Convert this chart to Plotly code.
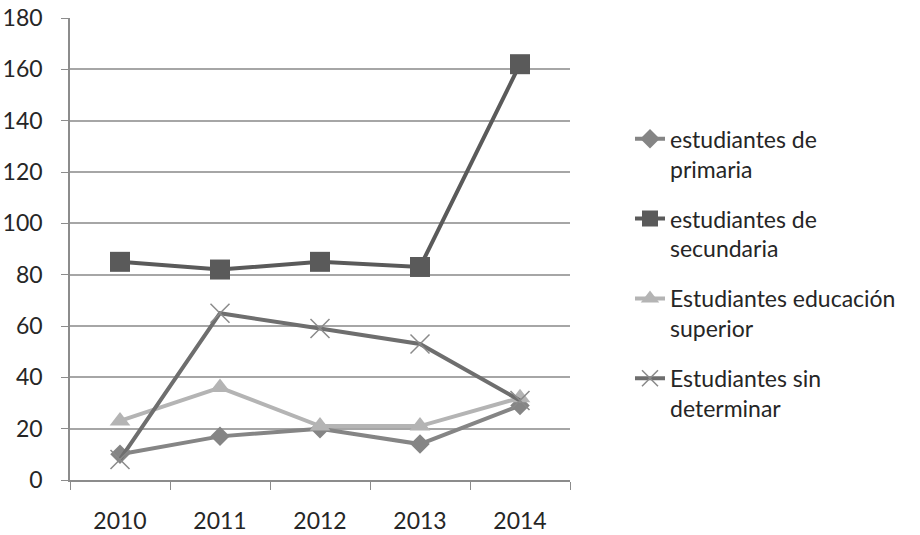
import plotly.graph_objects as go

years = ["2010", "2011", "2012", "2013", "2014"]
primaria = [10, 17, 20, 14, 29]
secundaria = [85, 82, 85, 83, 162]
superior = [23, 36, 21, 21, 32]
sin_determinar = [8, 65, 59, 53, 31]

names = ["estudiantes de<br>primaria", "estudiantes de<br>secundaria",
         "Estudiantes educación<br>superior", "Estudiantes sin<br>determinar"]

fig = go.Figure()
fig.add_trace(go.Scatter(x=years, y=primaria, name=names[0], mode="lines+markers",
                         line=dict(color="#858585", width=4),
                         marker=dict(symbol="diamond", size=15, color="#858585"),
                         legendgroup="a"))
fig.add_trace(go.Scatter(x=years, y=secundaria, name=names[1], mode="lines+markers",
                         line=dict(color="#5a5a5a", width=4),
                         marker=dict(symbol="square", size=20, color="#5a5a5a"),
                         legendgroup="b"))
fig.add_trace(go.Scatter(x=years, y=superior, name=names[2], mode="lines+markers",
                         line=dict(color="#b4b4b4", width=4),
                         marker=dict(symbol="triangle-up", size=18, color="#b4b4b4"),
                         legendgroup="c"))
fig.add_trace(go.Scatter(x=years, y=sin_determinar, name=names[3], mode="lines+markers",
                         line=dict(color="#6e6e6e", width=4),
                         marker=dict(symbol="x-thin", size=19, color="#6e6e6e",
                                     line=dict(color="#8a8a8a", width=1.5)),
                         legendgroup="d"))

fig.update_layout(
    width=920, height=535,
    margin=dict(l=70, r=350, t=18, b=55),
    paper_bgcolor="white", plot_bgcolor="white",
    font=dict(family="Lato, Open Sans, sans-serif", size=23, color="#262626"),
    legend=dict(x=1.12, y=0.785, xanchor="left", yanchor="top",
                tracegroupgap=17, valign="top", font=dict(size=23)),
    showlegend=True,
)
fig.update_xaxes(type="category", showline=True, linecolor="#8c8c8c", linewidth=1.5,
                 ticks="outside", tickson="boundaries", ticklen=8, tickcolor="#8c8c8c",
                 showgrid=False, range=[-0.5, 4.5], ticklabelstandoff=20, automargin=False,
                 ticklabeloverflow="allow")
fig.update_yaxes(range=[0, 180], dtick=20, showline=True, linecolor="#8c8c8c", linewidth=1.5,
                 gridcolor="#a6a6a6", gridwidth=1.5, ticks="outside", ticklen=7,
                 tickcolor="#8c8c8c", zeroline=False, ticklabelstandoff=14, automargin=False,
                 ticklabeloverflow="allow")

fig.write_html("out.html", config={"displayModeBar": False},
               post_script="document.body.style.margin='0';")
